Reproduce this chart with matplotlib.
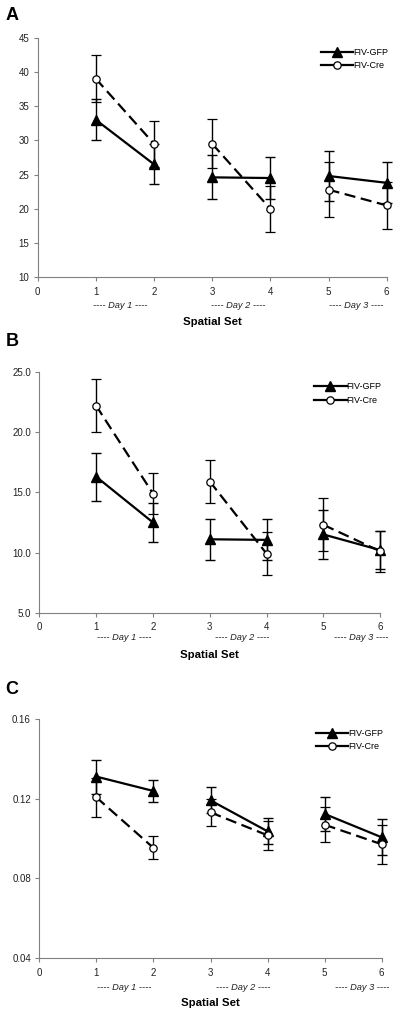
import matplotlib
matplotlib.use("Agg")
import matplotlib.pyplot as plt
from matplotlib.lines import Line2D
import numpy as np

plt.rcParams['font.family'] = ['Liberation Sans', 'DejaVu Sans']

sets = [1, 2, 3, 4, 5, 6]
series_names = ["FIV-GFP", "FIV-Cre"]
day_labels = ["---- Day 1 ----", "---- Day 2 ----", "---- Day 3 ----"]
xlabel = "Spatial Set"
panel_letters = ["A", "B", "C"]

# Panel A
a_gfp = [33.0, 26.5, 24.6, 24.5, 24.8, 23.8]
a_gfp_err = [3.0, 2.9, 3.2, 3.1, 3.6, 3.0]
a_cre = [39.0, 29.5, 29.5, 20.0, 22.8, 20.5]
a_cre_err = [3.4, 3.4, 3.6, 3.4, 4.0, 3.4]
a_yticks = [10, 15, 20, 25, 30, 35, 40, 45]
a_ylabels = ["10", "15", "20", "25", "30", "35", "40", "45"]

# Panel B
b_gfp = [16.3, 12.5, 11.1, 11.05, 11.5, 10.2]
b_gfp_err = [2.0, 1.6, 1.7, 1.7, 2.0, 1.6]
b_cre = [22.2, 14.9, 15.9, 9.9, 12.3, 10.1]
b_cre_err = [2.2, 1.7, 1.8, 1.8, 2.2, 1.7]
b_yticks = [5, 10, 15, 20, 25]
b_ylabels = ["5.0", "10.0", "15.0", "20.0", "25.0"]

# Panel C
c_gfp = [0.131, 0.1238, 0.1191, 0.1036, 0.1123, 0.1006]
c_gfp_err = [0.0085, 0.0055, 0.0065, 0.0065, 0.0083, 0.0090]
c_cre = [0.1206, 0.0953, 0.1131, 0.1016, 0.1069, 0.0971]
c_cre_err = [0.0097, 0.0058, 0.0067, 0.0072, 0.0088, 0.0097]
c_yticks = [0.04, 0.08, 0.12, 0.16]
c_ylabels = ["0.04", "0.08", "0.12", "0.16"]

W, H = 400, 1015
fig = plt.figure(figsize=(W / 100, H / 100), dpi=100)

def px_axes(left, top, right, bottom):
    return fig.add_axes([left / W, 1 - bottom / H, (right - left) / W, (bottom - top) / H])

panels = [
    dict(box=(37.7, 37.7, 386.7, 277.3), gfp=a_gfp, ge=a_gfp_err, cre=a_cre, ce=a_cre_err,
         yt=a_yticks, yl=a_ylabels, ylim=(10, 45), day_y=305, xl_y=321.7, let=(12, 16),
         day_x=[1.42, 3.45, 5.48]),
    dict(box=(39.3, 372.0, 380.3, 612.7), gfp=b_gfp, ge=b_gfp_err, cre=b_cre, ce=b_cre_err,
         yt=b_yticks, yl=b_ylabels, ylim=(5, 25), day_y=637, xl_y=655, let=(12, 341),
         day_x=[1.49, 3.57, 5.67]),
    dict(box=(39.3, 718.7, 381.7, 958.3), gfp=c_gfp, ge=c_gfp_err, cre=c_cre, ce=c_cre_err,
         yt=c_yticks, yl=c_ylabels, ylim=(0.04, 0.16), day_y=988, xl_y=1003, let=(12, 690),
         day_x=[1.49, 3.57, 5.65]),
]

gray = "#808080"
for i, p in enumerate(panels):
    ax = px_axes(*p["box"])
    x = np.array(sets)
    for seg in [(0, 2), (2, 4), (4, 6)]:
        s = slice(*seg)
        ax.errorbar(x[s], np.array(p["gfp"])[s], yerr=np.array(p["ge"])[s], color="black",
                    lw=1.6, marker="^", ms=6.5, mfc="black", mec="black", capsize=3.5,
                    elinewidth=1.0, capthick=1.0, zorder=3)
        ax.errorbar(x[s], np.array(p["cre"])[s], yerr=np.array(p["ce"])[s], color="black",
                    lw=1.6, ls=(0, (5, 2.5)), marker="o", ms=5.3, mfc="white", mec="black",
                    mew=0.9, capsize=3.5, elinewidth=1.0, capthick=1.0, zorder=4)
    for ch in ax.get_children():
        if hasattr(ch, "set_clip_on"):
            ch.set_clip_on(False)
    ax.set_xlim(0, 6)
    ax.set_ylim(*p["ylim"])
    ax.set_xticks(range(0, 7))
    ax.set_xticklabels([str(v) for v in range(0, 7)])
    ax.set_yticks(p["yt"])
    ax.set_yticklabels(p["yl"])
    for sp in ["top", "right"]:
        ax.spines[sp].set_visible(False)
    for sp in ["left", "bottom"]:
        ax.spines[sp].set_color(gray)
        ax.spines[sp].set_linewidth(0.8)
        ax.spines[sp].set_zorder(0)
    ax.tick_params(axis="both", direction="out", length=3, width=0.8, color=gray,
                   labelsize=7, labelcolor="#222222", pad=3)
    ax.tick_params(axis="x", pad=4)
    ax.patch.set_alpha(0)

    handles = [Line2D([0], [0], color="black", lw=1.6, marker="^", ms=6.5, mfc="black"),
               Line2D([0], [0], color="black", lw=1.6, marker="o", ms=5.3, mfc="white", mew=0.9)]
    ax.legend(handles, series_names, loc="upper right", bbox_to_anchor=(1.02, 0.98),
              frameon=False, fontsize=6.5, handlelength=3.6, handletextpad=0.0,
              labelspacing=0.5, borderaxespad=0.2)

    for dx, lab in zip(p["day_x"], day_labels):
        xf = (p["box"][0] + dx / 6 * (p["box"][2] - p["box"][0])) / W
        fig.text(xf, 1 - p["day_y"] / H, lab, ha="center", va="center",
                 fontsize=6.7, style="italic", color="#222222")
    fig.text((p["box"][0] + p["box"][2]) / 2 / W, 1 - p["xl_y"] / H, xlabel,
             ha="center", va="center", fontsize=8.2, fontweight="bold")
    fig.text(p["let"][0] / W, 1 - p["let"][1] / H, panel_letters[i], ha="center",
             va="center", fontsize=13, fontweight="bold")

fig.savefig("out.png", dpi=100)
